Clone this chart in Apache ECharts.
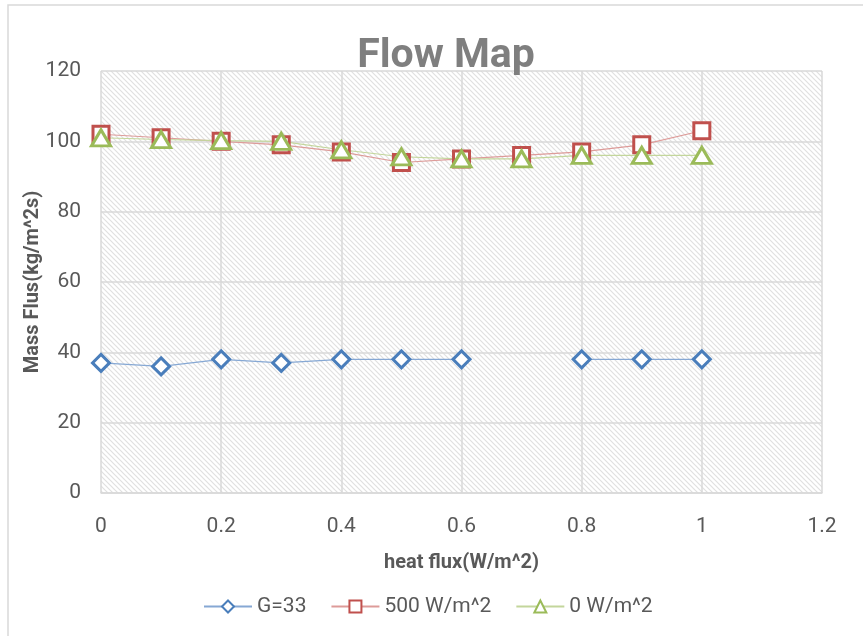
<!DOCTYPE html>
<html>
<head>
<meta charset="utf-8">
<script src="https://cdn.jsdelivr.net/npm/echarts@6/dist/echarts.min.js"></script>
<style>
  html, body { margin: 0; padding: 0; background: #ffffff; }
  #chart { width: 863px; height: 636px; }
</style>
</head>
<body>
<div id="chart"></div>
<script>
// Heat flux positions (W/m^2) shared by all three series
var heatFlux = [0, 0.1, 0.2, 0.3, 0.4, 0.5, 0.6, 0.7, 0.8, 0.9, 1];

// Mass flux readings (kg/m^2s); '-' marks a missing reading
var g33 = [37, 36, 38, 37, 38, 38, 38, '-', 38, 38, 38];
var w500 = [102, 101, 100, 99, 97, 94, 95, 96, 97, 99, 103];
var w0 = [101, 100.5, 100.2, 100, 97.6, 95.6, 95, 95, 96, 96, 96];

var seriesNames = ['G=33', '500 W/m^2', '0 W/m^2'];
var xTicks = [0, 0.2, 0.4, 0.6, 0.8, 1, 1.2];
var yTicks = [0, 20, 40, 60, 80, 100, 120];

function pairs(values) {
  return heatFlux.map(function (x, i) { return [x, values[i]]; });
}

// Diagonal hatch fill for the plot background
function hatchPattern() {
  var n = 5;
  var c = document.createElement('canvas');
  c.width = n; c.height = n;
  var ctx = c.getContext('2d');
  ctx.fillStyle = '#ffffff';
  ctx.fillRect(0, 0, n, n);
  ctx.strokeStyle = '#e0e0e0';
  ctx.lineWidth = 1.2;
  ctx.beginPath();
  ctx.moveTo(-1, -1); ctx.lineTo(n + 1, n + 1);
  ctx.moveTo(-1, n - 1); ctx.lineTo(1, n + 1);
  ctx.moveTo(n - 1, -1); ctx.lineTo(n + 1, 1);
  ctx.stroke();
  return { image: c, repeat: 'repeat' };
}

var FONT = '"Roboto", sans-serif';
var TEXT = '#595959';
var GRID = '#d9d9d9';

var chart = echarts.init(document.getElementById('chart'), null, { renderer: 'canvas' });

function lineSeries(name, values, symbol, size, color, lineColor) {
  return {
    name: name,
    type: 'line',
    data: pairs(values),
    symbol: symbol,
    symbolSize: size,
    showSymbol: true,
    connectNulls: false,
    lineStyle: { color: lineColor, width: 1.1 },
    itemStyle: { color: '#ffffff', borderColor: color, borderWidth: 3 },
    emphasis: { disabled: true },
    z: 3
  };
}

chart.setOption({
  animation: false,
  backgroundColor: '#ffffff',
  graphic: [{
    type: 'rect',
    shape: { x: 8, y: 5, width: 900, height: 700 },
    style: { fill: 'none', stroke: GRID, lineWidth: 1.5 },
    silent: true,
    z: -10
  }],
  title: {
    text: 'Flow Map',
    left: 441,
    textAlign: 'center',
    top: 31,
    textStyle: { fontFamily: FONT, fontSize: 41, fontWeight: 'bold', color: '#7f7f7f' }
  },
  grid: {
    left: 101, top: 71, width: 721, height: 422,
    show: true,
    backgroundColor: hatchPattern(),
    borderWidth: 0
  },
  legend: {
    data: seriesNames,
    left: 198,
    top: 591,
    itemWidth: 48,
    itemHeight: 15,
    itemGap: 24,
    textStyle: { fontFamily: FONT, fontSize: 21, color: TEXT }
  },
  xAxis: {
    type: 'value',
    min: 0, max: 1.2, interval: 0.2,
    name: 'heat flux(W/m^2)',
    nameLocation: 'middle',
    nameGap: 60,
    nameMoveOverlap: false,
    nameTextStyle: { fontFamily: FONT, fontSize: 20, fontWeight: 'bold', color: TEXT },
    axisLine: { show: true, lineStyle: { color: GRID, width: 1.5 } },
    axisTick: { show: false },
    splitLine: { show: true, lineStyle: { color: GRID, width: 1.5 } },
    axisLabel: {
      margin: 23,
      fontFamily: FONT, fontSize: 21, color: TEXT,
      formatter: function (v) {
        var r = Math.round(v * 10) / 10;
        return xTicks.indexOf(r) >= 0 ? String(r) : '';
      }
    }
  },
  yAxis: {
    type: 'value',
    min: 0, max: 120, interval: 20,
    name: 'Mass Flus(kg/m^2s)',
    nameLocation: 'middle',
    nameGap: 58,
    nameMoveOverlap: false,
    nameRotate: 90,
    nameTextStyle: { fontFamily: FONT, fontSize: 20, fontWeight: 'bold', color: TEXT },
    axisLine: { show: false },
    axisTick: { show: false },
    splitLine: { show: true, lineStyle: { color: GRID, width: 1.5 } },
    axisLabel: {
      margin: 20,
      fontFamily: FONT, fontSize: 21, color: TEXT,
      formatter: function (v) { return yTicks.indexOf(v) >= 0 ? String(v) : ''; }
    }
  },
  series: [
    lineSeries(seriesNames[0], g33, 'diamond', [17, 17], '#4a7ebb', '#86a8d4'),
    lineSeries(seriesNames[1], w500, 'rect', [16, 16], '#c0504d', '#dd9b99'),
    lineSeries(seriesNames[2], w0, 'triangle', [19, 16], '#9bbb59', '#c3d69b')
  ]
});
</script>
</body>
</html>
